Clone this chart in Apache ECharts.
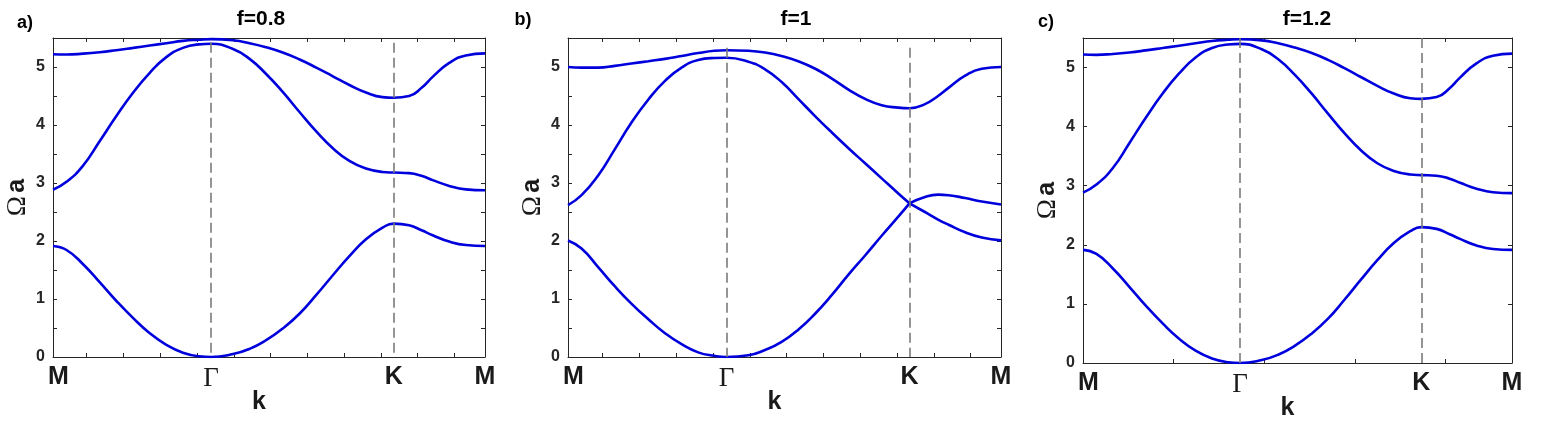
<!DOCTYPE html>
<html>
<head>
<meta charset="utf-8">
<script src="https://cdn.jsdelivr.net/npm/echarts@6/dist/echarts.min.js"></script>
<style>
  html, body { margin: 0; padding: 0; background: #fff; }
  #chart { width: 1548px; height: 437px; }
</style>
</head>
<body>
<div id="chart"></div>
<script>
// path M -> Γ -> K -> M, k in units of 1/a
const kPoints = [0, 0.31, 0.69, 1.07, 1.45, 1.84, 2.22, 2.60, 2.98, 3.35, 3.628, 4.13, 4.51, 4.89,
  5.27, 5.66, 6.04, 6.42, 6.80, 7.18, 7.56, 7.816, 8.17, 8.47, 8.71, 9.09, 9.47, 9.911]
const symPos = [0, 3.628, 7.816, 9.911]
const symNames = ['M', 'Γ', 'K', 'M']

const panelTitles = ['f=0.8', 'f=1', 'f=1.2']
const panelTags = ['a)', 'b)', 'c)']

// f = 0.8
const bandA1 = [1.915, 1.845, 1.60, 1.29, 0.97, 0.67, 0.41, 0.21, 0.075, 0.012, 0, 0.05, 0.14, 0.29,
  0.49, 0.75, 1.07, 1.41, 1.74, 2.03, 2.23, 2.30, 2.27, 2.18, 2.10, 1.99, 1.93, 1.915]
const bandA2 = [2.884, 3.02, 3.30, 3.72, 4.15, 4.56, 4.90, 5.17, 5.33, 5.39, 5.40, 5.31, 5.14, 4.88,
  4.57, 4.22, 3.89, 3.60, 3.38, 3.25, 3.19, 3.18, 3.17, 3.12, 3.05, 2.95, 2.89, 2.875]
const bandA3 = [5.22, 5.215, 5.23, 5.255, 5.29, 5.33, 5.37, 5.41, 5.45, 5.47, 5.48, 5.46, 5.41, 5.34,
  5.25, 5.13, 4.99, 4.84, 4.69, 4.56, 4.48, 4.47, 4.50, 4.65, 4.83, 5.07, 5.20, 5.235]

// f = 1
const bandB1 = [2.01, 1.87, 1.55, 1.22, 0.92, 0.65, 0.41, 0.22, 0.08, 0.02, 0, 0.03, 0.12, 0.26,
  0.47, 0.75, 1.07, 1.42, 1.75, 2.09, 2.42, 2.65, 2.50, 2.37, 2.28, 2.15, 2.06, 2.01]
const bandB2 = [2.62, 2.79, 3.13, 3.58, 4.04, 4.44, 4.76, 4.99, 5.12, 5.155, 5.16, 5.09, 4.96, 4.74,
  4.45, 4.15, 3.87, 3.60, 3.34, 3.08, 2.82, 2.65, 2.76, 2.80, 2.79, 2.74, 2.68, 2.63]
const bandB3 = [5.00, 4.99, 4.99, 5.02, 5.06, 5.10, 5.14, 5.19, 5.24, 5.28, 5.29, 5.28, 5.25, 5.19,
  5.10, 4.97, 4.80, 4.61, 4.45, 4.34, 4.30, 4.29, 4.36, 4.50, 4.64, 4.85, 4.97, 5.00]

// f = 1.2
const bandC1 = [1.915, 1.845, 1.60, 1.29, 0.97, 0.67, 0.41, 0.21, 0.075, 0.012, 0, 0.05, 0.14, 0.29,
  0.49, 0.75, 1.07, 1.41, 1.74, 2.03, 2.23, 2.30, 2.27, 2.18, 2.10, 1.99, 1.93, 1.915]
const bandC2 = [2.884, 3.02, 3.30, 3.72, 4.15, 4.56, 4.90, 5.17, 5.33, 5.39, 5.40, 5.31, 5.14, 4.88,
  4.57, 4.22, 3.89, 3.60, 3.38, 3.25, 3.19, 3.18, 3.17, 3.12, 3.05, 2.95, 2.89, 2.875]
const bandC3 = [5.22, 5.215, 5.23, 5.255, 5.29, 5.33, 5.37, 5.41, 5.45, 5.47, 5.48, 5.46, 5.41, 5.34,
  5.25, 5.13, 4.99, 4.84, 4.69, 4.56, 4.48, 4.47, 4.50, 4.65, 4.83, 5.07, 5.20, 5.235]

// minor x ticks
const ticksA = [0.773, 1.616, 2.460, 3.303, 4.147, 4.990, 5.833, 6.677, 7.520, 8.364, 9.207]
const ticksB = [0.779, 1.630, 2.478, 3.330, 4.180, 4.993, 5.840, 6.688, 7.536, 8.376, 9.217]
const ticksC = [2.094, 4.189, 6.283, 8.378]

// top of the dashed guide lines
const dashTop = [5.42, 5.33, 5.5]

const BLUE = '#0000dd'
const AXIS = '#262626'
const SANS = 'Liberation Sans, Arial, sans-serif'
const SERIF = 'Liberation Serif, Times New Roman, serif'

const panels = [
	{ grid: { left: 53, top: 38, width: 432, height: 319 }, titleX: 261, tagX: 25, tagTop: 14,
		yInterval: 0.5, ticks: ticksA, bands: [bandA1, bandA2, bandA3], split: false },
	{ grid: { left: 568, top: 38, width: 433, height: 319 }, titleX: 796, tagX: 523, tagTop: 11,
		yInterval: 0.5, ticks: ticksB, bands: [bandB1, bandB2, bandB3], split: true },
	{ grid: { left: 1083, top: 38, width: 429, height: 325 }, titleX: 1307, tagX: 1046, tagTop: 13,
		yInterval: 1, ticks: ticksC, bands: [bandC1, bandC2, bandC3], split: false }
]

const chart = echarts.init(document.getElementById('chart'))

const xMax = symPos[3]
const yMax = 5.5
const iK = kPoints.indexOf(symPos[2])

const grids = []
const xAxes = []
const yAxes = []
const series = []
const titles = []

const symLabel = (v) => {
	let idx = 0
	symPos.forEach((p, i) => { if (Math.abs(p - v) < Math.abs(symPos[idx] - v)) idx = i })
	if (idx === 0) return '{m0|M}'
	if (idx === 1) return '{g|Γ}'
	return '{m|' + symNames[idx] + '}'
}

panels.forEach((p, i) => {
	grids.push(Object.assign({ outerBoundsMode: 'none', containLabel: false }, p.grid))

	const lineStyle = { color: AXIS, width: 1 }

	// bottom x axis with M Γ K M labels
	xAxes.push({
		type: 'value', gridIndex: i, position: 'bottom', min: 0, max: xMax,
		axisLine: { show: true, onZero: false, lineStyle },
		axisTick: { show: true, inside: true, length: 4, customValues: p.ticks, lineStyle },
		axisLabel: {
			customValues: symPos, formatter: symLabel, margin: 8, showMinLabel: true, showMaxLabel: true,
			rich: {
				m0: { fontFamily: SANS, fontWeight: 'bold', fontSize: 25, color: '#1a1a1a', padding: [0, 0, 0, 11] },
				m: { fontFamily: SANS, fontWeight: 'bold', fontSize: 25, color: '#1a1a1a' },
				g: { fontFamily: SERIF, fontSize: 27, color: '#1a1a1a' }
			}
		},
		splitLine: { show: false },
		name: 'k', nameLocation: 'middle', nameGap: 33, nameMoveOverlap: false,
		nameTextStyle: { fontFamily: SANS, fontWeight: 'bold', fontSize: 25, color: '#1a1a1a', padding: [0, 20, 0, 0] }
	})
	// top x axis (box)
	xAxes.push({
		type: 'value', gridIndex: i, position: 'top', min: 0, max: xMax,
		axisLine: { show: true, onZero: false, lineStyle },
		axisTick: { show: true, inside: true, length: 4, customValues: p.ticks, lineStyle },
		axisLabel: { show: false },
		splitLine: { show: false }
	})
	// left y axis
	yAxes.push({
		type: 'value', gridIndex: i, position: 'left', min: 0, max: yMax, interval: p.yInterval,
		axisLine: { show: true, onZero: false, lineStyle },
		axisTick: { show: true, inside: true, length: 4, lineStyle },
		axisLabel: {
			margin: 8, fontFamily: SANS, fontWeight: 'bold', fontSize: 16, color: AXIS,
			formatter: (v) => (Math.abs(v - Math.round(v)) < 1e-6 && v <= 5 ? String(Math.round(v)) : '')
		},
		splitLine: { show: false },
		name: '{o|Ω} {a|a}', nameLocation: 'middle', nameRotate: 90, nameGap: 22, nameMoveOverlap: false,
		nameTextStyle: {
			rich: {
				o: { fontFamily: SERIF, fontSize: 27, color: '#1a1a1a' },
				a: { fontFamily: SANS, fontWeight: 'bold', fontSize: 25, color: '#1a1a1a' }
			}
		}
	})
	// right y axis (box)
	yAxes.push({
		type: 'value', gridIndex: i, position: 'right', min: 0, max: yMax, interval: p.yInterval,
		axisLine: { show: true, onZero: false, lineStyle },
		axisTick: { show: true, inside: true, length: 4, lineStyle },
		axisLabel: { show: false },
		splitLine: { show: false }
	})

	// bands
	p.bands.forEach((vals, b) => {
		const pts = kPoints.map((k, j) => [k, vals[j]])
		const pieces = p.split && b < 2 ? [pts.slice(0, iK + 1), pts.slice(iK)] : [pts]
		pieces.forEach((d) => {
			series.push({
				type: 'line', xAxisIndex: i * 2, yAxisIndex: i * 2, data: d,
				smooth: 0.5, symbol: 'none', silent: true, z: 3,
				lineStyle: { color: BLUE, width: 2.6 }
			})
		})
	})

	// dashed guides at Γ and K
	series.push({
		type: 'line', xAxisIndex: i * 2, yAxisIndex: i * 2, data: [], symbol: 'none', z: 2,
		markLine: {
			silent: true, symbol: ['none', 'none'], label: { show: false }, animation: false,
			lineStyle: { color: '#7a7a7a', width: 1.6, type: [10, 5] },
			data: [symPos[1], symPos[2]].map((k) => [{ coord: [k, dashTop[i]] }, { coord: [k, 0] }])
		}
	})

	titles.push({
		text: panelTitles[i], left: p.titleX, top: 9, textAlign: 'center', padding: 0,
		textStyle: { fontFamily: SANS, fontWeight: 'bold', fontSize: 21, color: '#000' }
	})
	titles.push({
		text: panelTags[i], left: p.tagX, top: p.tagTop, textAlign: 'center', padding: 0,
		textStyle: { fontFamily: SANS, fontWeight: 'bold', fontSize: 18, color: '#000' }
	})
})

chart.setOption({
	animation: false,
	backgroundColor: '#fff',
	title: titles,
	grid: grids,
	xAxis: xAxes,
	yAxis: yAxes,
	series
})
</script>
</body>
</html>
